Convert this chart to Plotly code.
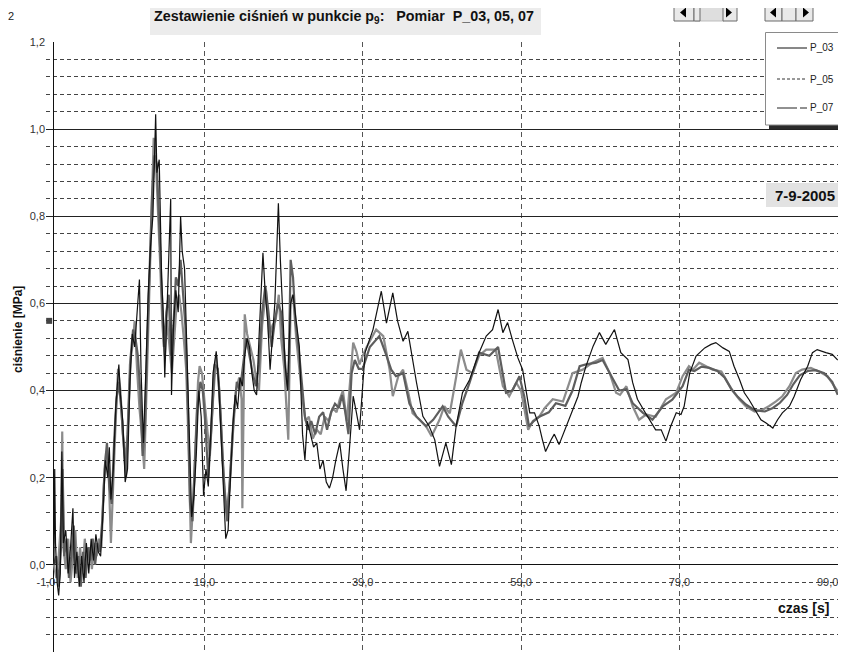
import plotly.graph_objects as go

# ---------------- data ----------------
t03 = [0.0, 0.1, 0.2, 0.4, 0.6, 0.8, 1.0, 1.2, 1.5, 1.8, 2.1, 2.4, 2.6, 2.9, 3.2, 3.5, 3.8, 4.1, 4.4, 4.7,
       5.0, 5.3, 5.6, 5.9, 6.2, 6.5, 6.8, 7.0, 7.2, 7.5, 7.8, 8.0, 8.2, 8.4, 8.7, 9.0, 9.3, 9.6, 9.9, 10.2,
       10.5, 10.8, 11.0, 11.3, 11.6, 11.9, 12.2, 12.5, 12.7, 12.85, 13.0, 13.3, 13.6, 13.8, 14.0, 14.3, 14.6,
       14.75, 14.85, 15.1, 15.4, 15.7, 16.0, 16.2, 16.5, 16.8, 17.1, 17.4, 17.7, 18.0, 18.3, 18.6, 18.9, 19.2,
       19.5, 19.8, 20.1, 20.5, 20.8, 21.1, 21.4, 21.7, 22.0, 22.3, 22.6, 22.9, 23.2, 23.5, 23.8, 24.1, 24.4,
       24.7, 25.0, 25.3, 25.6, 25.9, 26.2, 26.4, 26.7, 27.0, 27.3, 27.6, 27.9, 28.1, 28.35, 28.6, 28.9, 29.2,
       29.5, 29.9, 30.2, 30.6, 31.0, 31.4, 31.7, 32.0, 32.4, 32.8, 33.2, 33.6, 34.0, 34.4, 34.8, 35.2, 35.6,
       36.1, 36.5, 36.9, 37.3, 37.8, 38.2, 38.6, 39.3, 40.3, 41.35, 42.0, 42.8, 43.4, 44.1, 44.7, 45.8, 46.6,
       47.4, 48.1, 48.7, 49.5, 50.2, 50.8, 51.6, 52.5, 53.7, 54.6, 55.4, 56.1, 56.7, 57.3, 57.9, 58.6, 59.2,
       59.6, 60.1, 60.7, 61.3, 61.7, 62.1, 62.8, 63.2, 63.8, 64.7, 65.5, 66.2, 66.6, 67.2, 68.1, 68.9, 69.7,
       70.8, 71.6, 72.5, 73.1, 73.7, 74.6, 75.4, 76.0, 76.7, 77.3, 77.9, 78.6, 79.2, 79.6, 80.3, 81.1, 82.2,
       83.0, 83.6, 84.5, 85.3, 85.9, 86.6, 87.2, 87.8, 88.5, 89.3, 89.9, 90.8, 91.4, 92.0, 92.9, 93.5, 94.3,
       95.2, 95.8, 96.4, 97.5, 98.3, 99.0]
p03 = [0.0, 0.22, 0.05, -0.04, -0.07, -0.02, 0.26, 0.05, 0.08, -0.02, 0.04, 0.13, -0.03, 0.03, -0.05, 0.02,
       -0.04, 0.05, -0.02, 0.06, 0.01, 0.07, 0.03, 0.02, 0.12, 0.24, 0.20, 0.27, 0.15, 0.22, 0.36, 0.41, 0.46,
       0.39, 0.33, 0.19, 0.22, 0.42, 0.53, 0.50, 0.57, 0.655, 0.45, 0.28, 0.44, 0.62, 0.73, 0.80, 0.93, 1.034,
       0.90, 0.93, 0.66, 0.58, 0.43, 0.60, 0.72, 0.84, 0.39, 0.55, 0.63, 0.58, 0.80, 0.72, 0.68, 0.46, 0.30,
       0.11, 0.16, 0.26, 0.40, 0.34, 0.16, 0.22, 0.18, 0.30, 0.44, 0.49, 0.42, 0.30, 0.16, 0.06, 0.08, 0.20,
       0.32, 0.39, 0.36, 0.43, 0.41, 0.48, 0.52, 0.50, 0.44, 0.40, 0.39, 0.52, 0.66, 0.716, 0.62, 0.56, 0.448,
       0.52, 0.60, 0.70, 0.83, 0.70, 0.56, 0.46, 0.40, 0.60, 0.62, 0.56, 0.50, 0.30, 0.24, 0.33, 0.30, 0.27,
       0.28, 0.22, 0.24, 0.19, 0.176, 0.20, 0.24, 0.28, 0.22, 0.17, 0.26, 0.387, 0.35, 0.31, 0.487, 0.54,
       0.628, 0.555, 0.624, 0.56, 0.513, 0.536, 0.418, 0.341, 0.318, 0.287, 0.226, 0.28, 0.23, 0.318, 0.395,
       0.425, 0.487, 0.525, 0.54, 0.586, 0.533, 0.556, 0.517, 0.475, 0.448, 0.40, 0.349, 0.349, 0.318, 0.287,
       0.26, 0.287, 0.30, 0.276, 0.318, 0.356, 0.387, 0.418, 0.456, 0.502, 0.533, 0.506, 0.54, 0.487, 0.471,
       0.418, 0.38, 0.352, 0.326, 0.31, 0.31, 0.284, 0.318, 0.349, 0.345, 0.364, 0.44, 0.479, 0.498, 0.506,
       0.51, 0.498, 0.49, 0.456, 0.425, 0.395, 0.379, 0.356, 0.333, 0.326, 0.314, 0.333, 0.349, 0.364, 0.387,
       0.425, 0.456, 0.487, 0.494, 0.487, 0.483, 0.47]

t05 = [0.0, 0.3, 0.6, 0.9, 1.05, 1.2, 1.5, 1.8, 2.1, 2.4, 2.7, 3.0, 3.3, 3.6, 3.9, 4.2, 4.5, 4.8, 5.1, 5.4,
       5.7, 6.0, 6.3, 6.6, 6.9, 7.2, 7.5, 7.8, 8.1, 8.4, 8.7, 9.0, 9.3, 9.6, 9.9, 10.2, 10.5, 10.8, 11.1,
       11.4, 11.7, 12.0, 12.3, 12.6, 12.8, 13.1, 13.4, 13.7, 14.0, 14.3, 14.6, 14.9, 15.2, 15.5, 15.8, 16.1,
       16.4, 16.7, 17.0, 17.3, 17.6, 17.9, 18.2, 18.4, 18.7, 19.0, 19.4, 19.7, 20.1, 20.5, 20.9, 21.3, 21.8,
       22.2, 22.6, 23.0, 23.4, 23.7, 23.8, 24.0, 24.1, 24.4, 24.8, 25.2, 25.6, 25.9, 26.3, 26.8, 27.2, 27.6,
       28.0, 28.4, 28.7, 29.1, 29.4, 29.6, 29.9, 30.2, 30.6, 31.0, 31.4, 31.8, 32.2, 32.7, 33.2, 33.7, 34.2,
       34.7, 35.2, 35.7, 36.1, 36.5, 37.0, 37.4, 37.8, 38.2, 38.6, 39.0, 39.5, 40.7, 41.6, 42.4, 42.8, 43.5,
       44.1, 44.7, 45.3, 46.2, 47.0, 47.7, 48.7, 49.3, 50.0, 50.6, 51.4, 52.1, 52.9, 53.7, 54.6, 55.8, 56.7,
       57.5, 58.4, 59.0, 59.6, 59.9, 60.5, 61.3, 62.0, 63.0, 64.3, 65.5, 66.8, 68.0, 69.3, 70.2, 71.0, 71.5,
       72.3, 73.1, 73.9, 74.8, 76.0, 77.3, 78.6, 79.4, 80.2, 80.7, 81.5, 82.4, 83.2, 84.3, 84.9, 85.7, 86.6,
       87.4, 88.5, 89.5, 90.3, 91.2, 92.0, 92.9, 93.7, 94.5, 95.6, 96.6, 97.7, 98.5, 99.0]
p05 = [0.0, -0.03, 0.02, 0.10, 0.306, 0.04, -0.01, 0.06, -0.04, 0.03, 0.08, -0.03, 0.04, -0.02, 0.06, 0.00,
       0.04, -0.01, 0.05, 0.02, 0.06, 0.04, 0.18, 0.26, 0.22, 0.05, 0.20, 0.33, 0.45, 0.40, 0.30, 0.24, 0.30,
       0.46, 0.50, 0.56, 0.45, 0.36, 0.30, 0.22, 0.40, 0.60, 0.80, 0.98, 0.96, 0.84, 0.70, 0.55, 0.48, 0.56,
       0.50, 0.44, 0.52, 0.60, 0.62, 0.58, 0.52, 0.45, 0.28, 0.05, 0.15, 0.30, 0.42, 0.456, 0.44, 0.38, 0.30,
       0.25, 0.38, 0.48, 0.40, 0.24, 0.12, 0.18, 0.30, 0.40, 0.43, 0.38, 0.13, 0.40, 0.575, 0.53, 0.50, 0.47,
       0.42, 0.40, 0.55, 0.63, 0.52, 0.55, 0.56, 0.62, 0.52, 0.45, 0.35, 0.287, 0.60, 0.62, 0.52, 0.45, 0.38,
       0.33, 0.34, 0.29, 0.31, 0.30, 0.34, 0.33, 0.36, 0.35, 0.38, 0.40, 0.33, 0.42, 0.51, 0.49, 0.46, 0.48,
       0.50, 0.54, 0.525, 0.448, 0.387, 0.433, 0.448, 0.40, 0.348, 0.333, 0.318, 0.295, 0.333, 0.364, 0.348,
       0.41, 0.494, 0.448, 0.44, 0.48, 0.494, 0.494, 0.41, 0.387, 0.418, 0.40, 0.34, 0.31, 0.33, 0.34, 0.36,
       0.38, 0.375, 0.44, 0.448, 0.464, 0.475, 0.44, 0.395, 0.39, 0.41, 0.364, 0.333, 0.345, 0.34, 0.38,
       0.395, 0.433, 0.456, 0.448, 0.464, 0.456, 0.448, 0.444, 0.425, 0.40, 0.379, 0.364, 0.352, 0.356, 0.364,
       0.375, 0.387, 0.41, 0.44, 0.448, 0.452, 0.444, 0.433, 0.41, 0.398]

t07 = [0.0, 0.3, 0.6, 0.9, 1.1, 1.3, 1.6, 1.9, 2.2, 2.5, 2.8, 3.1, 3.4, 3.7, 4.0, 4.3, 4.6, 4.9, 5.2, 5.5,
       5.8, 6.1, 6.4, 6.7, 7.0, 7.3, 7.6, 7.9, 8.2, 8.5, 8.8, 9.1, 9.4, 9.7, 10.0, 10.3, 10.6, 10.9, 11.2,
       11.5, 11.8, 12.1, 12.4, 12.7, 13.0, 13.3, 13.6, 13.9, 14.2, 14.5, 14.8, 15.1, 15.4, 15.7, 16.0, 16.3,
       16.6, 16.9, 17.2, 17.5, 17.8, 18.1, 18.5, 18.8, 19.1, 19.5, 19.9, 20.3, 20.7, 21.1, 21.5, 21.9, 22.3,
       22.7, 23.1, 23.5, 23.9, 24.3, 24.7, 25.1, 25.5, 25.9, 26.3, 26.7, 27.1, 27.5, 27.9, 28.3, 28.7, 29.0,
       29.3, 29.6, 29.9, 30.2, 30.5, 30.9, 31.3, 31.7, 32.1, 32.5, 33.0, 33.5, 34.0, 34.5, 35.0, 35.5, 36.0,
       36.4, 36.8, 37.2, 37.6, 38.0, 38.5, 39.0, 39.9, 41.1, 42.0, 42.6, 43.2, 44.1, 44.9, 45.8, 47.0, 47.9,
       49.1, 49.8, 50.8, 51.6, 52.5, 53.7, 55.0, 56.1, 57.1, 57.9, 58.8, 59.4, 60.0, 60.6, 61.3, 62.5, 63.4,
       64.6, 65.5, 66.4, 67.2, 68.5, 69.3, 70.4, 71.4, 72.3, 73.1, 74.4, 75.6, 76.9, 78.1, 79.4, 80.2, 80.9,
       81.8, 82.8, 83.8, 84.7, 85.5, 86.4, 87.4, 88.5, 89.8, 90.8, 91.7, 92.6, 93.4, 94.2, 95.2, 96.2, 97.3,
       98.3, 99.0]
p07 = [0.0, 0.02, -0.05, 0.04, 0.22, 0.02, 0.06, -0.03, 0.02, 0.09, -0.02, 0.02, -0.05, 0.03, -0.03, 0.04,
       0.01, 0.06, 0.00, 0.05, 0.03, 0.10, 0.22, 0.28, 0.18, 0.14, 0.28, 0.38, 0.42, 0.36, 0.28, 0.20, 0.34,
       0.48, 0.54, 0.52, 0.48, 0.40, 0.25, 0.32, 0.52, 0.68, 0.85, 0.94, 0.92, 0.78, 0.62, 0.50, 0.58, 0.62,
       0.48, 0.55, 0.66, 0.64, 0.70, 0.62, 0.55, 0.38, 0.14, 0.10, 0.22, 0.36, 0.42, 0.40, 0.33, 0.20, 0.32,
       0.46, 0.45, 0.33, 0.18, 0.10, 0.22, 0.34, 0.42, 0.40, 0.46, 0.52, 0.48, 0.44, 0.41, 0.46, 0.58, 0.64,
       0.58, 0.50, 0.56, 0.60, 0.58, 0.50, 0.44, 0.40, 0.70, 0.66, 0.56, 0.50, 0.42, 0.34, 0.31, 0.33, 0.30,
       0.34, 0.35, 0.31, 0.35, 0.37, 0.36, 0.39, 0.35, 0.30, 0.44, 0.47, 0.45, 0.45, 0.50, 0.525, 0.48, 0.448,
       0.433, 0.44, 0.37, 0.34, 0.318, 0.333, 0.364, 0.34, 0.318, 0.372, 0.418, 0.487, 0.48, 0.50, 0.395,
       0.40, 0.433, 0.387, 0.318, 0.33, 0.34, 0.35, 0.371, 0.365, 0.40, 0.456, 0.46, 0.464, 0.47, 0.433, 0.40,
       0.403, 0.371, 0.349, 0.333, 0.364, 0.379, 0.41, 0.448, 0.445, 0.455, 0.452, 0.445, 0.43, 0.405, 0.385,
       0.368, 0.355, 0.352, 0.36, 0.372, 0.39, 0.415, 0.435, 0.445, 0.447, 0.44, 0.42, 0.39]

marker_t = [-0.6]
marker_v = [0.56]

x_ticks = [-1, 19, 39, 59, 79, 99]
x_labels = ["-1,0", "19,0", "39,0", "59,0", "79,0", "99,0"]
y_ticks = [-0.2, 0.0, 0.2, 0.4, 0.6, 0.8, 1.0, 1.2]
y_labels = ["-0,2", "0,0", "0,2", "0,4", "0,6", "0,8", "1,0", "1,2"]
series_names = ["P_03", "P_05", "P_07"]

title_text = "Zestawienie ciśnień w punkcie p<sub>9</sub>:   Pomiar  P_03, 05, 07"
date_text = "7-9-2005"

# ---------------- layout helpers ----------------
# page body has an 8px default margin, so the figure is made 8px smaller and
# every pixel position below is given in window coordinates.
OFF = 8
W, H = 846, 655
L, R, T, B = 46, 838, 42, 652          # plot area in window pixels
def PX(x):
    return (x - L) / (R - L)
def PY(y):
    return (B - y) / (B - T)

FONT = "Liberation Sans, Arial, sans-serif"

fig = go.Figure()
fig.add_trace(go.Scatter(x=t05, y=p05, mode="lines", name=series_names[1],
                         line=dict(color="#8c8c8c", width=2.2), showlegend=False))
fig.add_trace(go.Scatter(x=t07, y=p07, mode="lines", name=series_names[2],
                         line=dict(color="#5e5e5e", width=2.2), showlegend=False))
fig.add_trace(go.Scatter(x=t03, y=p03, mode="lines", name=series_names[0],
                         line=dict(color="#111111", width=1.2), showlegend=False))
fig.add_trace(go.Scatter(x=marker_t, y=marker_v, mode="markers",
                         marker=dict(symbol="square", size=6, color="#444"), showlegend=False))

minor_y = [round(-0.2 + 0.04 * i, 2) for i in range(36)]
minor_y = [v for v in minor_y if abs(v / 0.2 - round(v / 0.2)) > 1e-6]

# the last x label sits at the right edge: it is drawn right-aligned as an annotation
axis_x_labels = x_labels[:-1] + [""]

fig.update_layout(
    width=W - OFF, height=H - OFF,
    margin=dict(l=L - OFF, r=W - R, t=T - OFF, b=H - B, autoexpand=False),
    paper_bgcolor="white", plot_bgcolor="white",
    font=dict(family=FONT, size=11, color="#222"),
    xaxis=dict(range=[-1, 99.03], tickmode="array", tickvals=x_ticks, ticktext=axis_x_labels,
               showgrid=True, gridcolor="#555", gridwidth=1, griddash="5px,4px",
               zeroline=True, zerolinecolor="#111", zerolinewidth=1.2,
               showline=False, ticks="", anchor="free", position=0.128,
               tickfont=dict(size=11, color="#333")),
    yaxis=dict(range=[-0.2, 1.2], tickmode="array", tickvals=y_ticks, ticktext=y_labels,
               showgrid=True, gridcolor="#222", gridwidth=1,
               zeroline=True, zerolinecolor="#111", zerolinewidth=1.2,
               showline=False, ticks="",
               tickfont=dict(size=11, color="#333"),
               minor=dict(tickmode="array", tickvals=minor_y, showgrid=True,
                          gridcolor="#444", gridwidth=1, griddash="4px,3px", ticks="")),
)

shapes = []
# title background
shapes.append(dict(type="rect", xref="paper", yref="paper", x0=PX(150), x1=PX(541), y0=PY(35), y1=PY(3),
                   fillcolor="#ececec", line=dict(width=0), layer="below"))
# legend box with shadow
shapes.append(dict(type="rect", xref="paper", yref="paper", x0=PX(769), x1=PX(850), y0=PY(129), y1=PY(36),
                   fillcolor="#2a2a2a", line=dict(width=0)))
shapes.append(dict(type="rect", xref="paper", yref="paper", x0=PX(765.5), x1=PX(849), y0=PY(125), y1=PY(32.5),
                   fillcolor="white", line=dict(color="#8a8a8a", width=1)))
# legend samples
shapes.append(dict(type="line", xref="paper", yref="paper", x0=PX(777), x1=PX(807), y0=PY(48), y1=PY(48),
                   line=dict(color="#111", width=1)))
shapes.append(dict(type="line", xref="paper", yref="paper", x0=PX(777), x1=PX(807), y0=PY(79), y1=PY(79),
                   line=dict(color="#333", width=1, dash="3px,2px")))
shapes.append(dict(type="line", xref="paper", yref="paper", x0=PX(777), x1=PX(807), y0=PY(108), y1=PY(108),
                   line=dict(color="#222", width=1, dash="20px,3px,7px,50px")))
# date box
shapes.append(dict(type="rect", xref="paper", yref="paper", x0=PX(766), x1=PX(850), y0=PY(207), y1=PY(183),
                   fillcolor="#e2e2e2", line=dict(width=0)))

# scrollbar widgets
def button(x0, x1, y0=4, y1=21):
    shapes.append(dict(type="rect", xref="paper", yref="paper", x0=PX(x0), x1=PX(x1), y0=PY(y1), y1=PY(y0),
                       fillcolor="#e9e9e9", line=dict(color="#6a6a6a", width=1)))
def tri(cx, cy, left=True):
    if left:
        pts = [(cx - 3, cy), (cx + 3, cy - 5), (cx + 3, cy + 5)]
    else:
        pts = [(cx + 3, cy), (cx - 3, cy - 5), (cx - 3, cy + 5)]
    path = "M {} {} L {} {} L {} {} Z".format(PX(pts[0][0]), PY(pts[0][1]), PX(pts[1][0]), PY(pts[1][1]),
                                            PX(pts[2][0]), PY(pts[2][1]))
    shapes.append(dict(type="path", xref="paper", yref="paper", path=path, fillcolor="#000", line=dict(width=0)))

shapes.append(dict(type="rect", xref="paper", yref="paper", x0=PX(695), x1=PX(724), y0=PY(21), y1=PY(4),
                   fillcolor="#dedede", line=dict(color="#bdbdbd", width=1)))
button(674, 694)
button(694, 700)
button(723, 737)
tri(683, 12.5, True)
tri(729, 12.5, False)
button(765, 782)
button(782, 796)
button(796, 813)
tri(773, 12.5, True)
tri(806, 12.5, False)

fig.update_layout(shapes=shapes)

ann = []
ann.append(dict(text="<b>" + title_text + "</b>", xref="paper", yref="paper", x=PX(344), y=PY(17),
                showarrow=False, font=dict(size=14.3, color="#111", family=FONT), xanchor="center", yanchor="middle"))
ann.append(dict(text="2", xref="paper", yref="paper", x=PX(11), y=PY(16), showarrow=False,
                font=dict(size=11, color="#222"), xanchor="center", yanchor="middle"))
ann.append(dict(text="<b>ciśnienie [MPa]</b>", xref="paper", yref="paper", x=PX(18), y=PY(330), showarrow=False,
                textangle=-90, font=dict(size=12, color="#111"), xanchor="center", yanchor="middle"))
ann.append(dict(text="<b>czas [s]</b>", xref="paper", yref="paper", x=PX(803), y=PY(608), showarrow=False,
                font=dict(size=14, color="#111"), xanchor="center", yanchor="middle"))
ann.append(dict(text="<b>" + date_text + "</b>", xref="paper", yref="paper", x=PX(805), y=PY(195), showarrow=False,
                font=dict(size=15, color="#111"), xanchor="center", yanchor="middle"))
ann.append(dict(text=x_labels[-1], x=x_ticks[-1], y=-0.04, xref="x", yref="y", showarrow=False,
                xanchor="right", yanchor="middle", xshift=2, font=dict(size=11, color="#333")))
for name, yy in zip(series_names, [48, 79, 108]):
    ann.append(dict(text=name, xref="paper", yref="paper", x=PX(808), y=PY(yy), showarrow=False,
                    font=dict(size=10, color="#222"), xanchor="left", yanchor="middle"))
fig.update_layout(annotations=ann)

fig.write_html("out.html")
